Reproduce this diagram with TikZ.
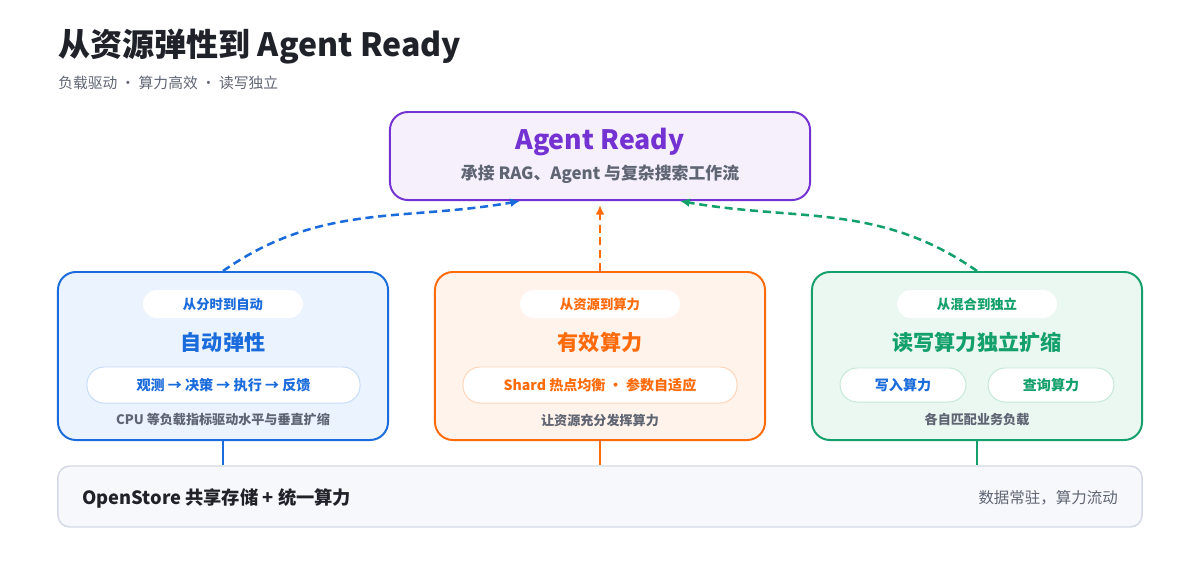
\documentclass[tikz,border=0pt]{standalone}
\usepackage{fontspec}
\setmainfont{Noto Sans CJK SC}
\usepackage{xcolor}
\usepackage{tikz}
\usetikzlibrary{shapes,arrows,positioning,fit}
\usetikzlibrary{shapes.geometric, arrows.meta, positioning}

\definecolor{darkC}{HTML}{1F2329}
\definecolor{grayC}{HTML}{5F6573}
\definecolor{purpleC}{HTML}{7432D2}
\definecolor{purpleL}{HTML}{F6F0FD}
\definecolor{blueC}{HTML}{1A6BDB}
\definecolor{blueL}{HTML}{EBF3FE}
\definecolor{blueB}{HTML}{C7DCF8}
\definecolor{orangeC}{HTML}{FF6B0A}
\definecolor{orangeL}{HTML}{FFF3EB}
\definecolor{orangeB}{HTML}{FDD5BA}
\definecolor{greenC}{HTML}{13A06B}
\definecolor{greenL}{HTML}{EBF7F1}
\definecolor{greenB}{HTML}{C5E9D8}
\definecolor{baseL}{HTML}{F7F8FB}
\definecolor{baseB}{HTML}{D3D9E4}

\begin{document}
\begin{tikzpicture}[x=0.025cm,y=-0.025cm]
    \tikzstyle{card}=[draw, rounded corners=0.45cm, line width=1.4pt, minimum width=8.25cm, minimum height=4.2cm]
    \tikzstyle{tag}=[fill=white, rounded corners=0.35cm, minimum width=4cm, minimum height=0.7cm, font=\fontsize{9.5pt}{11pt}\selectfont\bfseries]
    \tikzstyle{cardtitle}=[font=\fontsize{15pt}{18pt}\selectfont\bfseries]
    \tikzstyle{pill}=[draw, fill=white, line width=0.7pt, rounded corners=0.43cm, minimum height=0.9cm, font=\fontsize{10pt}{12pt}\selectfont\bfseries]
    \tikzstyle{note}=[text=grayC, font=\fontsize{9.3pt}{11pt}\selectfont\bfseries]
    \tikzstyle{link}=[line width=1pt]
    \tikzstyle{flow}=[line width=1.8pt, dash pattern=on 0.2cm off 0.12cm, -{Latex[length=0.24cm,width=0.22cm]}]

    \useasboundingbox (0,0) rectangle (1200,560);

    \node[anchor=west, inner sep=0, text=darkC, font=\fontsize{22.8pt}{26pt}\selectfont\bfseries] (title) at (58,47) {从资源弹性到 Agent Ready};
    \node[anchor=west, inner sep=0, text=grayC, font=\fontsize{10.5pt}{12pt}\selectfont] (subtitle) at (58,83) {负载驱动 · 算力高效 · 读写独立};

    \node[draw=purpleC, fill=purpleL, line width=1.4pt, rounded corners=0.45cm, minimum width=10.5cm, minimum height=2.2cm] (agent) at (600,156) {};
    \node[text=purpleC, font=\fontsize{19pt}{22pt}\selectfont\bfseries] (agenttitle) at (600,142) {Agent Ready};
    \node[text=grayC, font=\fontsize{12pt}{14pt}\selectfont\bfseries] (agentsub) at (600,174) {承接 RAG、Agent 与复杂搜索工作流};

    \node[card, draw=blueC, fill=blueL] (scale) at (223,356) {};
    \node[tag, text=blueC] (scaletag) at (223,304) {从分时到自动};
    \node[cardtitle, text=blueC] (scaletitle) at (223,342) {自动弹性};
    \node[pill, draw=blueB, text=blueC, minimum width=6.825cm] (loop) at (223.5,385) {观测 → 决策 → 执行 → 反馈};
    \node[note] (scalenote) at (223,420) {CPU 等负载指标驱动水平与垂直扩缩};

    \node[card, draw=orangeC, fill=orangeL] (compute) at (600,356) {};
    \node[tag, text=orangeC] (computetag) at (600,304) {从资源到算力};
    \node[cardtitle, text=orangeC] (computetitle) at (600,342) {有效算力};
    \node[pill, draw=orangeB, text=orangeC, minimum width=6.85cm] (shard) at (600,385) {Shard 热点均衡 • 参数自适应};
    \node[note] (computenote) at (600,420) {让资源充分发挥算力};

    \node[card, draw=greenC, fill=greenL] (split) at (977,356) {};
    \node[tag, text=greenC] (splittag) at (977,304) {从混合到独立};
    \node[cardtitle, text=greenC] (splittitle) at (977,342) {读写算力独立扩缩};
    \node[pill, draw=greenB, text=blueC, minimum width=3.15cm, minimum height=0.85cm] (write) at (903,385) {写入算力};
    \node[pill, draw=greenB, text=greenC, minimum width=3.15cm, minimum height=0.85cm] (query) at (1051,385) {查询算力};
    \node[note] (splitnote) at (977,420) {各自匹配业务负载};

    \node[draw=baseB, fill=baseL, line width=1pt, rounded corners=0.3cm, minimum width=27.1cm, minimum height=1.525cm] (store) at (600,496.5) {};
    \node[anchor=west, inner sep=0, text=darkC, font=\fontsize{13pt}{15pt}\selectfont\bfseries] (storetitle) at (82,498) {OpenStore 共享存储 + 统一算力};
    \node[anchor=east, inner sep=0, text=grayC, font=\fontsize{11pt}{13pt}\selectfont] (storenote) at (1118,498) {数据常驻，算力流动};

    \draw[link, blueC] (scale.south) -- (scale.south |- store.north);
    \draw[link, orangeC] (compute.south) -- (compute.south |- store.north);
    \draw[link, greenC] (split.south) -- (split.south |- store.north);

    \draw[flow, blueC] (scale.north) to[out=35, in=190] ([xshift=-2cm]agent.south);
    \draw[flow, orangeC, shorten >=0.1cm] (compute.north) -- (agent.south);
    \draw[flow, greenC] (split.north) to[out=145, in=-10] ([xshift=2cm]agent.south);
\end{tikzpicture}
\end{document}
